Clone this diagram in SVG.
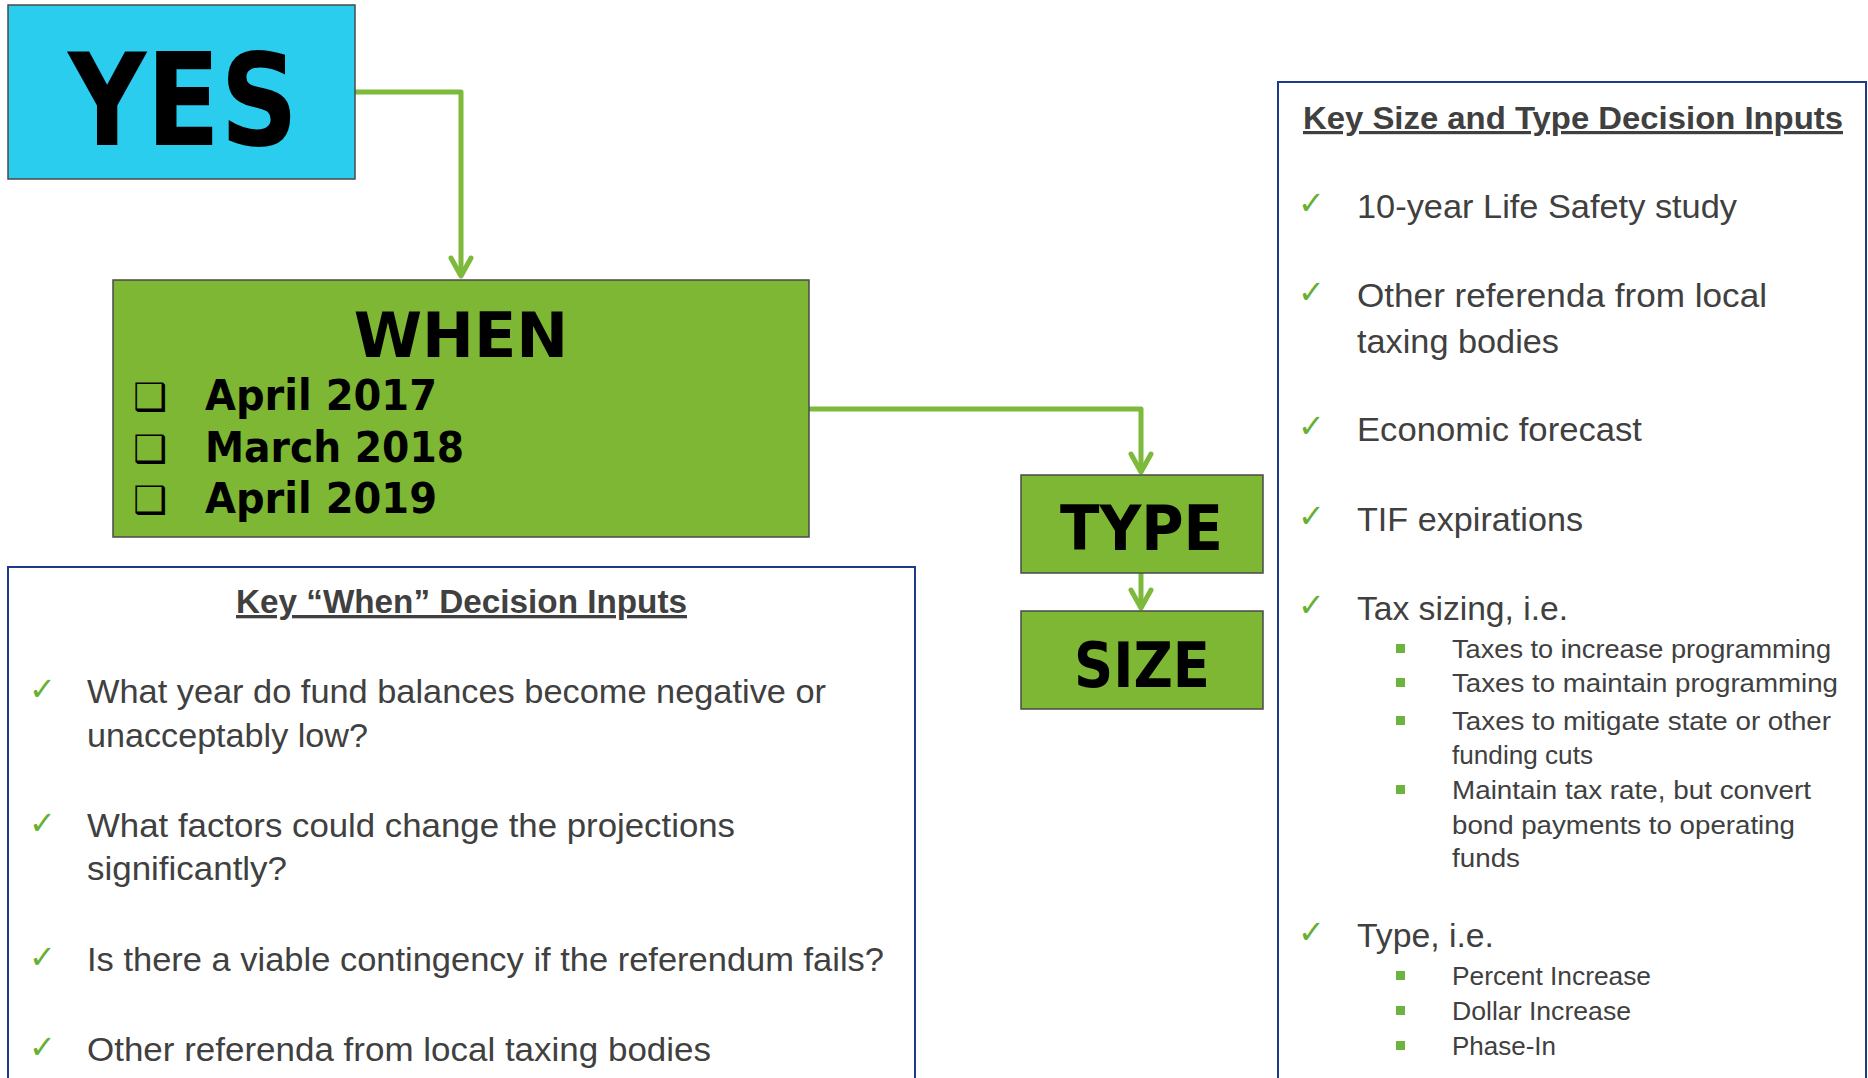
<svg xmlns="http://www.w3.org/2000/svg" width="1868" height="1078" viewBox="0 0 1868 1078">
<style>
.node{stroke:#4a4a4a;stroke-width:1.5}
.lbl{font-family:"DejaVu Sans",sans-serif;font-weight:bold;fill:#000}
.panel{fill:#fff;stroke:#1f3a8a;stroke-width:2}
.t{font-family:"Liberation Sans",Arial,sans-serif;fill:#404040}
.ttl{font-family:"Liberation Sans",Arial,sans-serif;font-weight:bold;fill:#404040;text-decoration:underline}
.chk{font-family:"DejaVu Sans",sans-serif;fill:#66b032;font-size:32px}
.sq{fill:#6db33f}
.conn{fill:none;stroke:#7db93a;stroke-width:5;stroke-linejoin:round}
.head{fill:none;stroke:#7db93a;stroke-width:5;stroke-linecap:round;stroke-linejoin:round}
</style>
<rect width="1868" height="1078" fill="#fff"/>

<g id="connectors">
<path class="conn" d="M355,92 H461 V276"/>
<polyline class="head" points="451,258 461,276 471,258"/>
<path class="conn" d="M809,409 H1141 V472"/>
<polyline class="head" points="1131,454 1141,472 1151,454"/>
<path class="conn" d="M1141,573 V608"/>
<polyline class="head" points="1131,590 1141,608 1151,590"/>
</g>

<g id="yes">
<rect class="node" x="8" y="5" width="347" height="174" fill="#2bcdef"/>
<text class="lbl" x="68" y="145" font-size="128" textLength="230" lengthAdjust="spacingAndGlyphs">YES</text>
</g>

<g id="when">
<rect class="node" x="113" y="280" width="696" height="257" fill="#7eb733"/>
<text class="lbl" x="461" y="357" font-size="62" text-anchor="middle">WHEN</text>
<text class="lbl" x="133" y="410" font-size="38">❑</text>
<text class="lbl" x="205" y="410" font-size="42" textLength="232" lengthAdjust="spacingAndGlyphs">April 2017</text>
<text class="lbl" x="133" y="462" font-size="38">❑</text>
<text class="lbl" x="205" y="462" font-size="42" textLength="259" lengthAdjust="spacingAndGlyphs">March 2018</text>
<text class="lbl" x="133" y="513" font-size="38">❑</text>
<text class="lbl" x="205" y="513" font-size="42" textLength="232" lengthAdjust="spacingAndGlyphs">April 2019</text>
</g>

<g id="type">
<rect class="node" x="1021" y="475" width="242" height="98" fill="#7eb733"/>
<text class="lbl" x="1060" y="550" font-size="62" textLength="163" lengthAdjust="spacingAndGlyphs">TYPE</text>
</g>

<g id="size">
<rect class="node" x="1021" y="611" width="242" height="98" fill="#7eb733"/>
<text class="lbl" x="1074" y="687" font-size="62" textLength="136" lengthAdjust="spacingAndGlyphs">SIZE</text>
</g>

<g id="when-inputs">
<rect class="panel" x="8" y="567" width="907" height="560"/>
<text class="ttl" x="236" y="613" font-size="33" textLength="451" lengthAdjust="spacingAndGlyphs">Key “When” Decision Inputs</text>
<text class="chk" x="29" y="700">✓</text>
<text class="t" x="87" y="703" font-size="34" textLength="739" lengthAdjust="spacingAndGlyphs">What year do fund balances become negative or</text>
<text class="t" x="87" y="747" font-size="34" textLength="281" lengthAdjust="spacingAndGlyphs">unacceptably low?</text>
<text class="chk" x="29" y="834">✓</text>
<text class="t" x="87" y="837" font-size="34" textLength="648" lengthAdjust="spacingAndGlyphs">What factors could change the projections</text>
<text class="t" x="87" y="880" font-size="34" textLength="200" lengthAdjust="spacingAndGlyphs">significantly?</text>
<text class="chk" x="29" y="968">✓</text>
<text class="t" x="87" y="971" font-size="34" textLength="797" lengthAdjust="spacingAndGlyphs">Is there a viable contingency if the referendum fails?</text>
<text class="chk" x="29" y="1058">✓</text>
<text class="t" x="87" y="1061" font-size="34" textLength="624" lengthAdjust="spacingAndGlyphs">Other referenda from local taxing bodies</text>
</g>

<g id="size-type-inputs">
<rect class="panel" x="1278" y="82" width="588" height="1060"/>
<text class="ttl" x="1303" y="129" font-size="32" textLength="540" lengthAdjust="spacingAndGlyphs">Key Size and Type Decision Inputs</text>
<text class="chk" x="1298" y="214">✓</text>
<text class="t" x="1357" y="218" font-size="33" textLength="380" lengthAdjust="spacingAndGlyphs">10-year Life Safety study</text>
<text class="chk" x="1298" y="303">✓</text>
<text class="t" x="1357" y="307" font-size="33" textLength="410" lengthAdjust="spacingAndGlyphs">Other referenda from local</text>
<text class="t" x="1357" y="353" font-size="33" textLength="202" lengthAdjust="spacingAndGlyphs">taxing bodies</text>
<text class="chk" x="1298" y="437">✓</text>
<text class="t" x="1357" y="441" font-size="33" textLength="285" lengthAdjust="spacingAndGlyphs">Economic forecast</text>
<text class="chk" x="1298" y="527">✓</text>
<text class="t" x="1357" y="531" font-size="33" textLength="226" lengthAdjust="spacingAndGlyphs">TIF expirations</text>
<text class="chk" x="1298" y="616">✓</text>
<text class="t" x="1357" y="620" font-size="33" textLength="211" lengthAdjust="spacingAndGlyphs">Tax sizing, i.e.</text>
<rect class="sq" x="1396" y="644" width="9" height="9"/>
<text class="t" x="1452" y="658" font-size="26" textLength="379" lengthAdjust="spacingAndGlyphs">Taxes to increase programming</text>
<rect class="sq" x="1396" y="678" width="9" height="9"/>
<text class="t" x="1452" y="692" font-size="26" textLength="386" lengthAdjust="spacingAndGlyphs">Taxes to maintain programming</text>
<rect class="sq" x="1396" y="716" width="9" height="9"/>
<text class="t" x="1452" y="730" font-size="26" textLength="379" lengthAdjust="spacingAndGlyphs">Taxes to mitigate state or other</text>
<text class="t" x="1452" y="764" font-size="26" textLength="141" lengthAdjust="spacingAndGlyphs">funding cuts</text>
<rect class="sq" x="1396" y="785" width="9" height="9"/>
<text class="t" x="1452" y="799" font-size="26" textLength="359" lengthAdjust="spacingAndGlyphs">Maintain tax rate, but convert</text>
<text class="t" x="1452" y="834" font-size="26" textLength="343" lengthAdjust="spacingAndGlyphs">bond payments to operating</text>
<text class="t" x="1452" y="867" font-size="26" textLength="68" lengthAdjust="spacingAndGlyphs">funds</text>
<text class="chk" x="1298" y="943">✓</text>
<text class="t" x="1357" y="947" font-size="33" textLength="137" lengthAdjust="spacingAndGlyphs">Type, i.e.</text>
<rect class="sq" x="1396" y="971" width="9" height="9"/>
<text class="t" x="1452" y="985" font-size="26" textLength="199" lengthAdjust="spacingAndGlyphs">Percent Increase</text>
<rect class="sq" x="1396" y="1006" width="9" height="9"/>
<text class="t" x="1452" y="1020" font-size="26" textLength="179" lengthAdjust="spacingAndGlyphs">Dollar Increase</text>
<rect class="sq" x="1396" y="1041" width="9" height="9"/>
<text class="t" x="1452" y="1055" font-size="26" textLength="104" lengthAdjust="spacingAndGlyphs">Phase-In</text>
</g>
</svg>
